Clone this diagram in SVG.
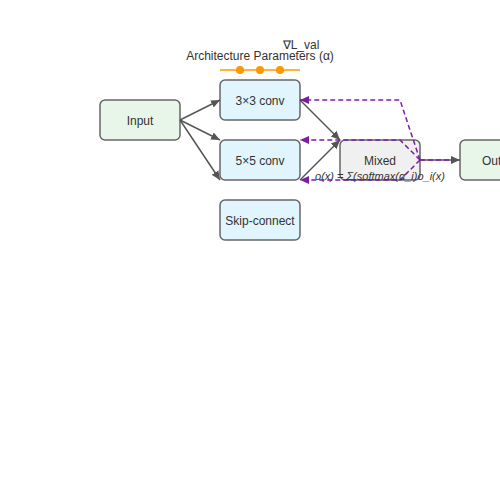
<svg xmlns="http://www.w3.org/2000/svg" width="500" height="500" viewBox="0 0 500 500">
<style>
.node rect{stroke:#666;stroke-width:1.5}
.lbl{font-family:"Liberation Sans",Arial,sans-serif;font-size:12px;fill:#333;text-anchor:middle;dominant-baseline:central}
.formula{font-size:11px;font-style:italic}
.edge{stroke:#555;stroke-width:1.5;fill:none;marker-end:url(#ah)}
.grad{stroke:#7b1fa2;stroke-width:1.5;fill:none;stroke-dasharray:5,3;marker-end:url(#ahp)}
</style>
<defs>
<marker id="ah" markerWidth="10" markerHeight="10" refX="9" refY="5" orient="auto" markerUnits="userSpaceOnUse"><path d="M0,1 L9,5 L0,9 z" fill="#555"/></marker>
<marker id="ahp" markerWidth="10" markerHeight="10" refX="9" refY="5" orient="auto" markerUnits="userSpaceOnUse"><path d="M0,1 L9,5 L0,9 z" fill="#7b1fa2"/></marker>
</defs>
<rect width="500" height="500" fill="#fff"/>
<g id="alpha">
<line x1="220" y1="70" x2="300" y2="70" stroke="#ff9800" stroke-width="1.5"/>
<circle cx="240" cy="70" r="4" fill="#ff9800"/>
<circle cx="260" cy="70" r="4" fill="#ff9800"/>
<circle cx="280" cy="70" r="4" fill="#ff9800"/>
<text class="lbl" x="260" y="56">Architecture Parameters (α)</text>
<text class="lbl" x="301" y="45">∇L_val</text>
</g>
<g id="input" class="node"><rect x="100" y="100" width="80" height="40" rx="5" fill="#e8f5e9"/><text class="lbl" x="140" y="121">Input</text></g>
<g id="conv3" class="node"><rect x="220" y="80" width="80" height="40" rx="5" fill="#e1f5fe"/><text class="lbl" x="260" y="101">3×3 conv</text></g>
<g id="conv5" class="node"><rect x="220" y="140" width="80" height="40" rx="5" fill="#e1f5fe"/><text class="lbl" x="260" y="161">5×5 conv</text></g>
<g id="skip" class="node"><rect x="220" y="200" width="80" height="40" rx="5" fill="#e1f5fe"/><text class="lbl" x="260" y="221">Skip-connect</text></g>
<g id="mixed" class="node"><rect x="340" y="140" width="80" height="40" rx="5" fill="#f0f0f0"/><text class="lbl" x="380" y="161">Mixed</text></g>
<g id="output" class="node"><rect x="460" y="140" width="80" height="40" rx="5" fill="#e8f5e9"/><text class="lbl" x="500" y="161">Output</text></g>
<g id="connectors">
<path class="edge" d="M180,120 L220,100"/>
<path class="edge" d="M180,120 L220,140"/>
<path class="edge" d="M180,120 L220,180"/>
<path class="edge" d="M300,100 L340,140"/>
<path class="edge" d="M300,180 L340,140"/>
<path class="edge" d="M420,160 L460,160"/>
<path class="grad" d="M420,160 L400,100 L300,100"/>
<path class="grad" d="M420,160 L400,140 L300,140"/>
<path class="grad" d="M420,160 L400,180 L300,180"/>
<path stroke="#7b1fa2" stroke-width="1.5" fill="none" stroke-dasharray="5,3" d="M420,160 L452,160"/>
</g>
<text class="lbl formula" x="380" y="176">o(x) = Σ(softmax(α_i)o_i(x)</text>
</svg>
